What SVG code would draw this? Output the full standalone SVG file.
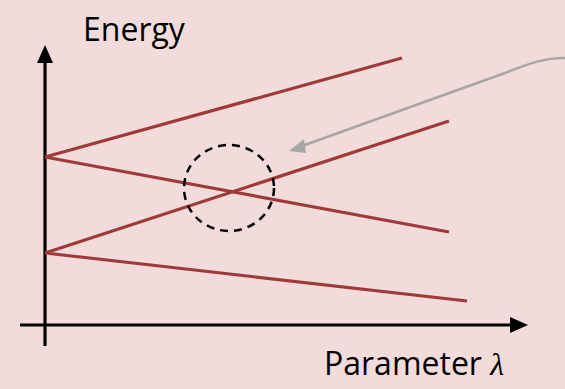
<svg xmlns="http://www.w3.org/2000/svg" width="565" height="389" viewBox="0 0 565 389">
<style>
.lvl{stroke:#A0393A;stroke-width:3.2;fill:none;stroke-linecap:butt}
.axis{stroke:#000;stroke-width:3.2;fill:none}
.lbl{font-family:"Open Sans","Liberation Sans",sans-serif;font-size:32px;fill:#000}
</style>
<rect width="565" height="389" fill="#F2DCDB"/>
<g id="axes">
<line class="axis" x1="45" y1="346" x2="45" y2="62"/>
<path d="M45,45 L53,63 L37,63 z" fill="#000"/>
<line class="axis" x1="20" y1="325" x2="512" y2="325"/>
<path d="M528,325 L510,317 L510,333 z" fill="#000"/>
</g>
<g id="levels">
<line class="lvl" x1="45" y1="157" x2="402" y2="58"/>
<line class="lvl" x1="45" y1="157" x2="449" y2="232"/>
<line class="lvl" x1="45" y1="253" x2="449" y2="121"/>
<line class="lvl" x1="45" y1="253" x2="467" y2="301"/>
</g>
<g id="crossing">
<ellipse cx="229" cy="188" rx="45" ry="43" fill="none" stroke="#000" stroke-width="2.5" stroke-dasharray="8,6"/>
</g>
<g id="connectors">
<path d="M566,58 C548,57 530,63 505,73 L302,146" fill="none" stroke="#A6A6A6" stroke-width="2.5"/>
<path d="M289,151 L304,139 L306,153 z" fill="#A6A6A6"/>
</g>
<g id="labels">
<text class="lbl" x="83" y="41">Energy</text>
<text class="lbl" x="324" y="375">Parameter <tspan font-family="'Liberation Serif',serif" font-style="italic">λ</tspan></text>
</g>
</svg>
